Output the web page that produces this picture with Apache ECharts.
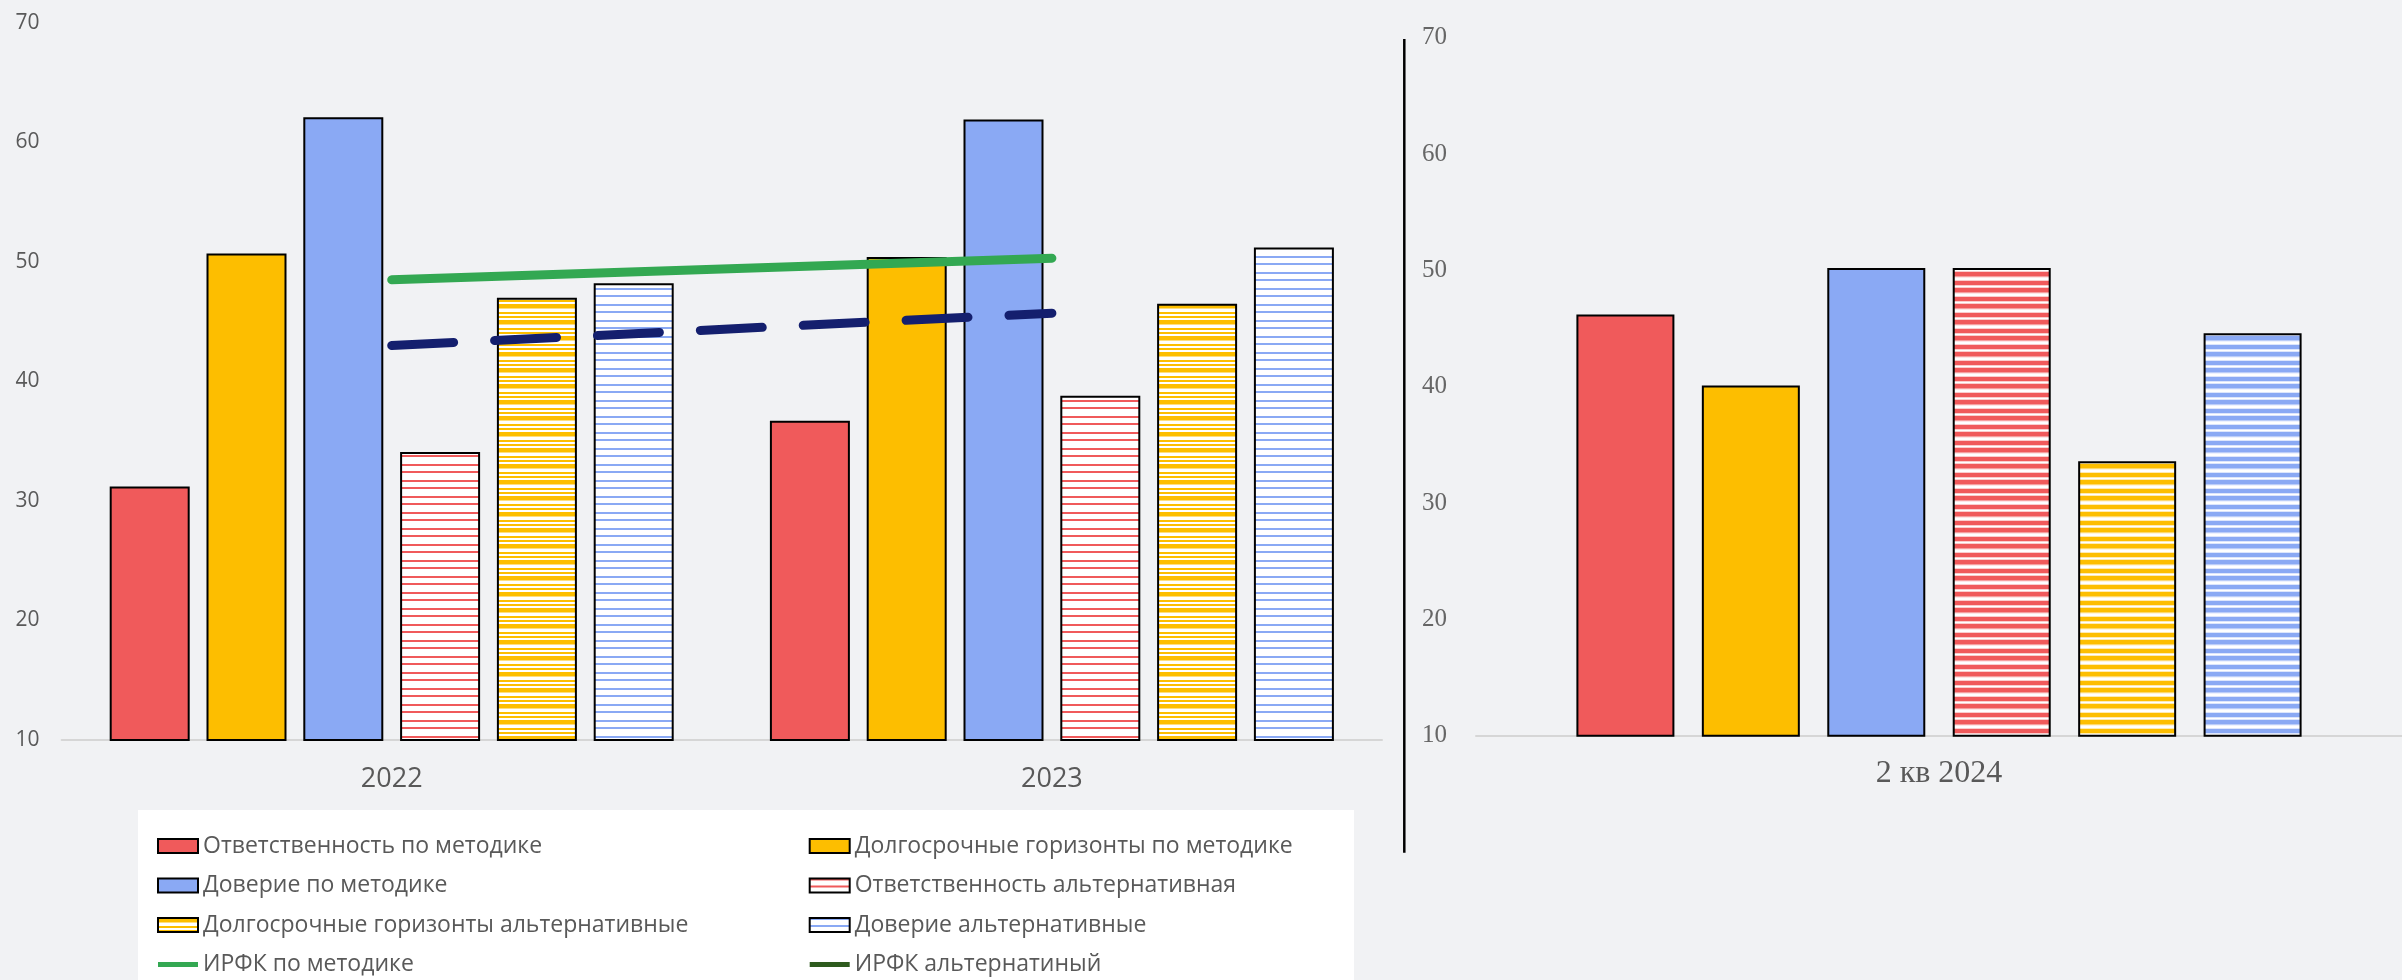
<!DOCTYPE html>
<html><head><meta charset="utf-8">
<script src="https://cdn.jsdelivr.net/npm/echarts@6/dist/echarts.min.js"></script>
<style>html,body{margin:0;padding:0;background:#f1f2f4;} #c{width:2402px;height:980px;}</style>
</head><body><div id="c"></div>
<script>
// ---- data ----
const years = ['2022', '2023'];
const quarter = ['2 кв 2024'];
const yTicks = [10, 20, 30, 40, 50, 60, 70];

const names = [
  'Ответственность по методике',
  'Долгосрочные горизонты по методике',
  'Доверие по методике',
  'Ответственность альтернативная',
  'Долгосрочные горизонты альтернативные',
  'Доверие альтернативные',
  'ИРФК по методике',
  'ИРФК альтернатиный'
];

const respMethod  = [31.2, 36.7];
const longMethod  = [50.7, 50.4];
const trustMethod = [62.1, 61.9];
const respAlt     = [34.1, 38.8];
const longAlt     = [47.0, 46.5];
const trustAlt    = [48.2, 51.2];
const irfkMethod  = [48.5, 50.3];
const irfkAlt     = [43.0, 45.7];

const qRespMethod  = [46.2];
const qLongMethod  = [40.1];
const qTrustMethod = [50.2];
const qRespAlt     = [50.2];
const qLongAlt     = [33.6];
const qTrustAlt    = [44.6];

// ---- styles ----
const RED = '#f05a5b', YEL = '#fdbe00', BLU = '#8aa9f4';
const GREEN = '#33a852', NAVY = '#141f6e', DKGREEN = '#2e5b1e';
const GREY = '#595959';

function stripes(color, bands, period) {
  const c = document.createElement('canvas');
  c.width = 16; c.height = period;
  const g = c.getContext('2d');
  g.fillStyle = '#ffffff'; g.fillRect(0, 0, 16, period);
  bands.forEach(b => {
    g.globalAlpha = b[2] == null ? 1 : b[2];
    g.fillStyle = color;
    g.fillRect(0, b[0], 16, b[1] - b[0]);
  });
  return { image: c, repeat: 'repeat' };
}
const thinBands = [[0, 2], [7, 9]];
const yelBands = [[0, 4.5], [8, 10], [12, 14]];
const thickBands = [[0, 4.5], [9, 13], [4.5, 5.5, 0.3], [8, 9, 0.3], [13, 14, 0.3], [15, 16, 0.3]];

const leftFills = [RED, YEL, BLU, stripes(RED, thinBands, 16), stripes(YEL, yelBands, 16), stripes(BLU, thinBands, 16)];
const rightFills = [RED, YEL, BLU, stripes(RED, thickBands, 16), stripes(YEL, thickBands, 16), stripes(BLU, thickBands, 16)];

const leftData = [respMethod, longMethod, trustMethod, respAlt, longAlt, trustAlt];
const rightData = [qRespMethod, qLongMethod, qTrustMethod, qRespAlt, qLongAlt, qTrustAlt];

const series = [];
leftData.forEach((d, i) => series.push({
  name: names[i], type: 'bar', xAxisIndex: 0, yAxisIndex: 0, data: d,
  barWidth: 80, barGap: '21%',
  itemStyle: { color: leftFills[i], borderColor: '#000', borderWidth: 2 }
}));
rightData.forEach((d, i) => series.push({
  name: names[i], type: 'bar', xAxisIndex: 1, yAxisIndex: 1, data: d,
  barWidth: 98, barGap: '28%',
  itemStyle: { color: rightFills[i], borderColor: '#000', borderWidth: 2 }
}));
series.push({
  name: names[6], type: 'line', xAxisIndex: 0, yAxisIndex: 0, data: irfkMethod,
  symbol: 'none', itemStyle: { color: GREEN },
  lineStyle: { color: GREEN, width: 9, cap: 'round' }, z: 5
});
series.push({
  name: names[7], type: 'line', xAxisIndex: 0, yAxisIndex: 0, data: irfkAlt,
  symbol: 'none', itemStyle: { color: NAVY },
  lineStyle: { color: NAVY, width: 9, type: [62, 41], cap: 'round' }, z: 5
});

const lineIcon = 'path://M0,0L0,0M0,4.5L40,4.5L40,9.5L0,9.5ZM40,14L40,14';
function legendItem(i) {
  if (i === 6) return { name: names[6], icon: lineIcon, itemStyle: { color: GREEN, borderWidth: 0 } };
  if (i === 7) return { name: names[7], icon: lineIcon, itemStyle: { color: DKGREEN, borderWidth: 0 } };
  return { name: names[i], icon: 'rect' };
}
const legendCommon = {
  orient: 'vertical', top: 834, padding: 0, itemWidth: 40, itemHeight: 14, itemGap: 15.5,
  selectedMode: false,
  textStyle: { fontFamily: 'Open Sans', fontSize: 23, color: GREY, lineHeight: 24 }
};

const yAxisCommon = {
  type: 'value', min: 10, max: 70, interval: 10,
  axisLine: { show: false }, axisTick: { show: false }, splitLine: { show: false }
};

const option = {
  backgroundColor: '#f1f2f4',
  animation: false,
  grid: [
    { left: 61.6, right: 1020, top: 22.7, bottom: 240 },
    { left: 1476, right: 0, top: 37.7, bottom: 244.3 }
  ],
  xAxis: [
    { type: 'category', gridIndex: 0, data: years,
      axisLine: { lineStyle: { color: '#d6d6d6', width: 2 } }, axisTick: { show: false },
      axisLabel: { fontFamily: 'Open Sans', fontSize: 27, color: GREY, margin: 26 } },
    { type: 'category', gridIndex: 1, data: quarter,
      axisLine: { lineStyle: { color: '#d6d6d6', width: 2 } }, axisTick: { show: false },
      axisLabel: { fontFamily: 'Liberation Serif', fontSize: 32, color: GREY, margin: 22 } }
  ],
  yAxis: [
    Object.assign({ gridIndex: 0, axisLabel: { fontFamily: 'Open Sans', fontSize: 21, color: GREY, margin: 22,
      customValues: yTicks } }, yAxisCommon),
    Object.assign({ gridIndex: 1, axisLabel: { fontFamily: 'Liberation Serif', fontSize: 25, color: '#666666', margin: 29,
      customValues: yTicks } }, yAxisCommon)
  ],
  legend: [
    Object.assign({ left: 157, data: [0, 2, 4, 6].map(legendItem) }, legendCommon),
    Object.assign({ left: 808.7, data: [1, 3, 5, 7].map(legendItem) }, legendCommon)
  ],
  graphic: [
    { type: 'rect', z: -10, shape: { x: 138, y: 810, width: 1216, height: 175 }, style: { fill: '#ffffff' } },
    { type: 'line', z: 10, shape: { x1: 1404.3, y1: 39, x2: 1404.3, y2: 852.7 }, style: { stroke: '#000', lineWidth: 2.5 } }
  ],
  series: series
};

const chart = echarts.init(document.getElementById('c'), null, { renderer: 'canvas' });
chart.setOption(option);
</script>
</body></html>
